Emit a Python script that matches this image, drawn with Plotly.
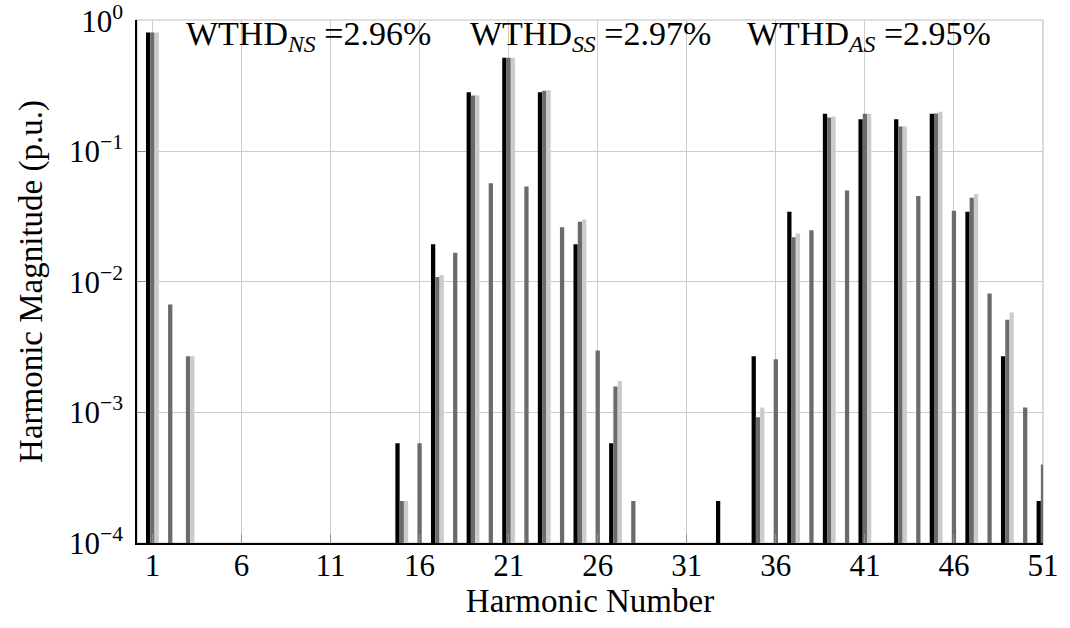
import plotly.graph_objects as go

# ---- data (harmonic number -> magnitude, p.u.) ----
ns_harm = [1, 15, 17, 19, 21, 23, 25, 27, 33, 35, 37, 39, 41, 43, 45, 47, 49, 51]
ns_vals = [0.815, 5.8e-4, 0.0194, 0.283, 0.522, 0.283, 0.0194, 5.8e-4, 2.1e-4,
           0.0027, 0.0345, 0.194, 0.176, 0.176, 0.194, 0.0345, 0.0027, 2.1e-4]

ss_harm = [1, 2, 3, 15, 16, 17, 18, 19, 20, 21, 22, 23, 24, 25, 26, 27, 28,
           35, 36, 37, 38, 39, 40, 41, 43, 44, 45, 46, 47, 48, 49, 50, 51]
ss_vals = [0.815, 0.0067, 0.0027, 2.1e-4, 5.8e-4, 0.0109, 0.0167, 0.268, 0.057,
           0.522, 0.0537, 0.291, 0.0262, 0.0289, 0.00298, 0.00158, 2.1e-4,
           9.2e-4, 0.00255, 0.022, 0.0249, 0.182, 0.0501, 0.194, 0.155, 0.0454,
           0.195, 0.0351, 0.0441, 0.00815, 0.00513, 0.00109, 4.0e-4]

as_harm = [1, 3, 15, 17, 19, 21, 23, 25, 27, 35, 37, 39, 41, 43, 45, 47, 49]
as_vals = [0.815, 0.0027, 2.1e-4, 0.0113, 0.268, 0.522, 0.294, 0.030, 0.00174,
           0.00109, 0.0235, 0.185, 0.194, 0.155, 0.201, 0.0472, 0.00582]

wthd_labels = ["WTHD<sub><i>NS</i></sub> =2.96%",
               "WTHD<sub><i>SS</i></sub> =2.97%",
               "WTHD<sub><i>AS</i></sub> =2.95%"]

x_tickvals = [1, 6, 11, 16, 21, 26, 31, 36, 41, 46, 51]
y_tickvals = [1e-4, 1e-3, 1e-2, 1e-1, 1]
y_ticktext = ["10<sup>\u22124</sup>", "10<sup>\u22123</sup>", "10<sup>\u22122</sup>",
              "10<sup>\u22121</sup>", "10<sup>0</sup>"]

FONT = "Liberation Serif"

fig = go.Figure()
series = [
    (ns_harm, ns_vals, "#000000", -0.36, "NS"),
    (ss_harm, ss_vals, "#6b6b6b", -0.12, "SS"),
    (as_harm, as_vals, "#cbcbcb", 0.12, "AS"),
]
for harm, vals, col, off, name in series:
    fig.add_trace(go.Bar(x=harm, y=vals, name=name, width=0.24, offset=off,
                         marker=dict(color=col, line=dict(width=0)),
                         showlegend=False))

# gray frame (top/right), black left/bottom axis lines drawn by axes
fig.add_shape(type="rect", xref="paper", yref="paper", x0=0, y0=0, x1=1, y1=1,
              line=dict(color="#c0c0c0", width=1.2), layer="below")

xs = [0.189, 0.500, 0.808]
for txt, xp in zip(wthd_labels, xs):
    fig.add_annotation(text=txt, x=xp, y=0.97, xref="paper", yref="paper",
                       xanchor="center", yanchor="middle", showarrow=False,
                       font=dict(family=FONT, size=34, color="black"))

fig.update_layout(
    width=1070, height=628,
    margin=dict(l=137, r=27, t=20, b=85, autoexpand=False),
    paper_bgcolor="white", plot_bgcolor="white",
    barmode="overlay",
    font=dict(family=FONT, size=31, color="black"),
)
fig.update_xaxes(
    range=[0.135, 51], tickvals=x_tickvals, ticks="inside", ticklen=9,
    tickcolor="#909090", tickwidth=1, automargin=False,
    showgrid=True, gridcolor="#cccccc", gridwidth=1,
    showline=True, linecolor="black", linewidth=1.6, mirror=False,
    zeroline=False, tickfont=dict(family=FONT, size=31, color="black"),
    ticklabelstandoff=-6, ticklabeloverflow="allow",
    title=dict(text="Harmonic Number", font=dict(family=FONT, size=33), standoff=0),
)
fig.update_yaxes(
    type="log", range=[-4, 0.006], tickvals=y_tickvals, ticktext=y_ticktext,
    ticks="inside", ticklen=9, tickcolor="#909090", tickwidth=1, automargin=False,
    showgrid=True, gridcolor="#cccccc", gridwidth=1,
    showline=True, linecolor="black", linewidth=1.6, mirror=False,
    zeroline=False, tickfont=dict(family=FONT, size=31, color="black"),
    ticklabelstandoff=6, ticklabeloverflow="allow",
    title=dict(text="Harmonic Magnitude (p.u.)", font=dict(family=FONT, size=33), standoff=16),
)

fig.write_html("out.html")
